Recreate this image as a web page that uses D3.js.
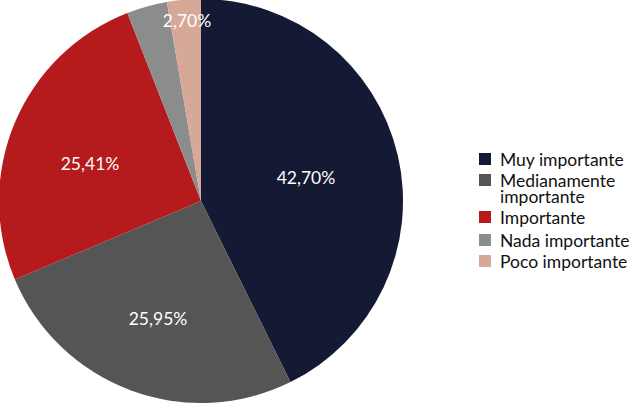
<!DOCTYPE html>
<html><head><meta charset="utf-8">
<script src="https://cdn.jsdelivr.net/npm/d3@7"></script>
<style>body{margin:0;background:#fff}svg{display:block}</style>
</head><body>
<svg id="c" width="633" height="403"></svg>
<script>
const categories = ["Muy importante", "Medianamente importante", "Importante", "Nada importante", "Poco importante"];
const values = [42.70, 25.95, 25.41, 3.24, 2.70];
const labels = ["42,70%", "25,95%", "25,41%", "", "2,70%"];
const colors = ["#141a33", "#555555", "#b51a1c", "#8b8d8c", "#d6a898"];
const legendLines = [["Muy importante"], ["Medianamente", "importante"], ["Importante"], ["Nada importante"], ["Poco importante"]];

const svg = d3.select("#c");
const cx = 201, cy = 201, r = 202;
const g = svg.append("g").attr("transform", `translate(${cx},${cy})`);
const pie = d3.pie().sort(null).value(d => d)(values);
const arc = d3.arc().innerRadius(0).outerRadius(r);
g.selectAll("path").data(pie).enter().append("path")
  .attr("d", arc).attr("fill", (d, i) => colors[i]);

const labelPos = [[105, -24], [-43, 117], [-111, -38], null, [-14, -181]];
const font = "Lato, 'Open Sans', sans-serif";
g.selectAll("text.l").data(pie).enter().append("text")
  .attr("class", "l")
  .attr("x", (d, i) => labelPos[i] ? labelPos[i][0] : 0)
  .attr("y", (d, i) => labelPos[i] ? labelPos[i][1] : 0)
  .attr("text-anchor", "middle").attr("dominant-baseline", "central")
  .attr("fill", "#fff").attr("font-family", font).attr("font-size", 17.5)
  .text((d, i) => labels[i]);

const rowY = [159, 180, 217, 240, 261];
const lg = svg.append("g");
categories.forEach((c, i) => {
  lg.append("rect").attr("x", 479).attr("y", rowY[i] - 6).attr("width", 12).attr("height", 12).attr("fill", colors[i]);
  const t = lg.append("text")
    .attr("font-family", font).attr("font-size", 17.5).attr("fill", "#111");
  legendLines[i].forEach((s, j) => {
    t.append("tspan").attr("x", 500).attr("y", rowY[i] + j * 16)
      .attr("dominant-baseline", "central").text(s);
  });
});
</script>
</body></html>
